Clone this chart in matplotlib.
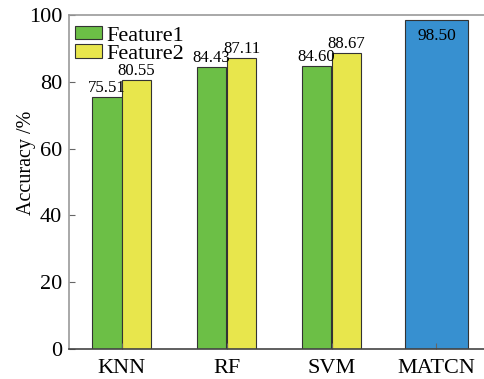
import numpy as np
import matplotlib.pyplot as plt

plt.rcParams['font.family'] = ['Liberation Serif', 'DejaVu Serif']

methods = ['KNN', 'RF', 'SVM', 'MATCN']
feature1 = [75.51, 84.43, 84.60]
feature2 = [80.55, 87.11, 88.67]
matcn_acc = 98.50

green = '#6cbf46'
yellow = '#e8e64c'
blue = '#3790d0'

fig = plt.figure(figsize=(4.84, 3.79), dpi=100)
ax = fig.add_axes([69 / 484, 30 / 379, 420 / 484, 334 / 379])

x = np.arange(len(feature1))
w = 0.285
b1 = ax.bar(x - w / 2, feature1, w, color=green, edgecolor='#333333', linewidth=0.8, label='Feature1')
b2 = ax.bar(x + w / 2, feature2, w, color=yellow, edgecolor='#333333', linewidth=0.8, label='Feature2')
b3 = ax.bar(3, matcn_acc, 0.6, color=blue, edgecolor='#333333', linewidth=0.8)

# value labels above the grouped bars, inside the MATCN bar
for bars in (b1, b2):
    for rect in bars:
        h = rect.get_height()
        ax.text(rect.get_x() + rect.get_width() / 2, h + 0.3, f'{h:.2f}',
                ha='center', va='bottom', fontsize=12)
ax.text(3, matcn_acc - 2.3, f'{matcn_acc:.2f}', ha='center', va='top', fontsize=12.5)

ax.set_xlim(-0.5, 3.5)
ax.set_ylim(0, 100)
ax.set_xticks(range(len(methods)))
ax.set_xticklabels(methods)
ax.set_yticks([0, 20, 40, 60, 80, 100])
ax.tick_params(axis='both', direction='in', labelsize=16, length=4, color='#666666')
ax.tick_params(axis='x', pad=7)
ax.tick_params(axis='y', pad=5)
ax.set_ylabel('Accuracy /%', fontsize=14.5)
ax.yaxis.set_label_coords(-0.079, 0.557)

for side in ['left', 'top', 'right']:
    ax.spines[side].set_color('#999999')
    ax.spines[side].set_linewidth(1.2)
ax.spines['bottom'].set_color('#444444')
ax.spines['bottom'].set_linewidth(1.2)

ax.legend(loc='upper left', bbox_to_anchor=(6 / 420, 1 - 11 / 334), fontsize=16,
          frameon=False, handlelength=1.2, handleheight=0.55, handletextpad=0.2,
          labelspacing=-0.05, borderaxespad=0, borderpad=0)

fig.savefig('out.png', dpi=100)
